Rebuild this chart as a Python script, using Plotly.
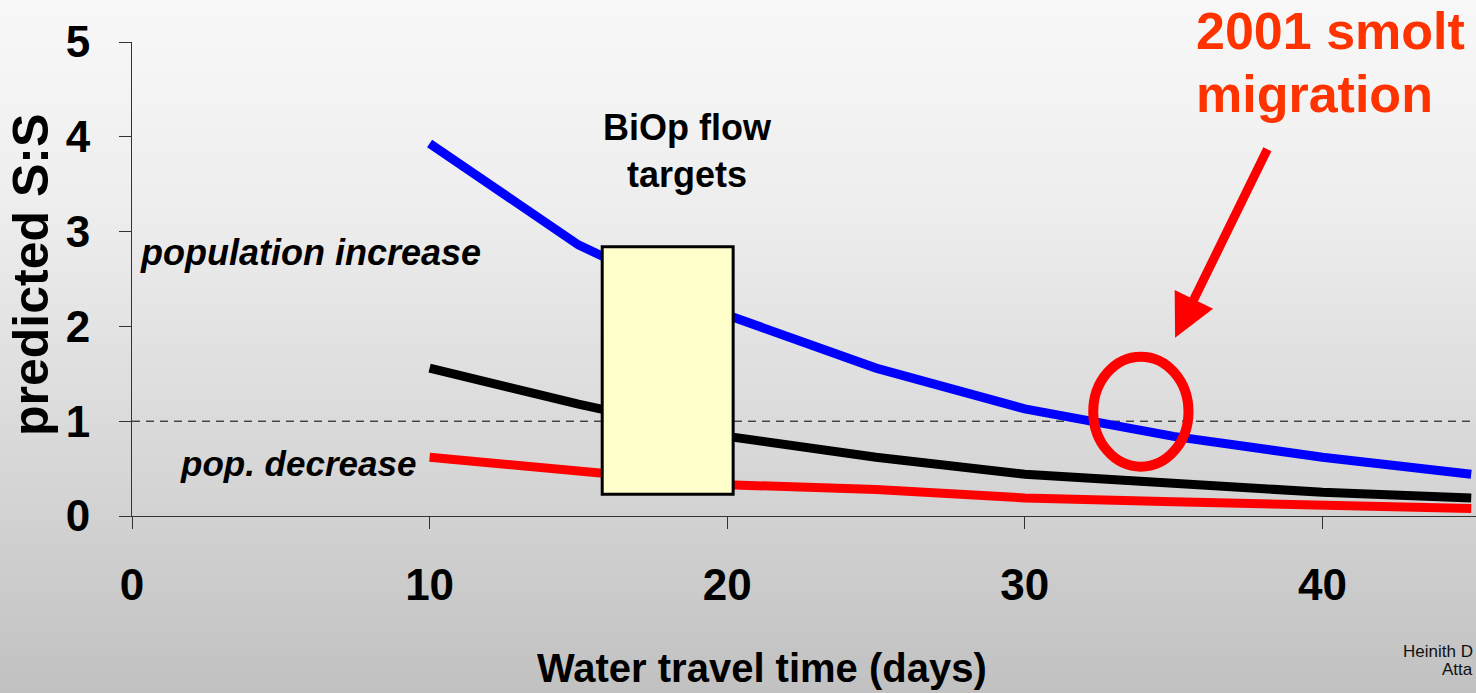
import base64
import struct
import zlib

import plotly.graph_objects as go

# ---- data -------------------------------------------------------------
travel_days = [10, 15, 20, 25, 30, 35, 40, 45]
ss_high = [3.93, 2.86, 2.12, 1.56, 1.13, 0.84, 0.62, 0.44]
ss_mid = [1.56, 1.18, 0.84, 0.62, 0.44, 0.34, 0.25, 0.19]
ss_low = [0.62, 0.48, 0.33, 0.28, 0.19, 0.15, 0.12, 0.08]

x_ticks = [0, 10, 20, 30, 40]
y_ticks = [0, 1, 2, 3, 4, 5]

replacement_level = 1.0
biop_days = [15.8, 20.2]
biop_ss = [0.23, 2.84]
smolt_days = [32.3, 35.5]
smolt_ss = [0.52, 1.68]

# ---- page geometry ----------------------------------------------------
W, H = 1476, 693
ML, MR, MT, MB = 132, 0, 42, 177
PLOT_W = W - ML - MR
PLOT_H = H - MT - MB
X_MAX = PLOT_W / 29.76


def paper_x(px):
    return (px - ML) / PLOT_W


def paper_y(py):
    return (H - MB - py) / PLOT_H


def gradient_png(stops, height):
    """1-pixel-wide grayscale PNG fading through the given (row, level) stops."""
    rows = b""
    for r in range(height):
        for (r0, v0), (r1, v1) in zip(stops[:-1], stops[1:]):
            if r0 <= r <= r1:
                v = v0 + (v1 - v0) * (r - r0) / (r1 - r0)
                break
        rows += b"\x00" + bytes([int(round(v))])

    def chunk(tag, data):
        c = struct.pack(">I", len(data)) + tag + data
        return c + struct.pack(">I", zlib.crc32(tag + data) & 0xFFFFFFFF)

    png = b"\x89PNG\r\n\x1a\n"
    png += chunk(b"IHDR", struct.pack(">IIBBBBB", 1, height, 8, 0, 0, 0, 0))
    png += chunk(b"IDAT", zlib.compress(rows))
    png += chunk(b"IEND", b"")
    return "data:image/png;base64," + base64.b64encode(png).decode()


BG = gradient_png([(0, 248), (200, 238), (430, 218), (692, 193)], H)

SANS = "Liberation Sans, Arial, sans-serif"

fig = go.Figure()

for vals, col in [(ss_low, "#FF0000"), (ss_mid, "#000000"), (ss_high, "#0000FF")]:
    fig.add_trace(go.Scatter(
        x=travel_days, y=vals, mode="lines",
        line=dict(color=col, width=9),
        hoverinfo="skip", showlegend=False,
    ))

# replacement line S:S = 1
fig.add_shape(type="line", xref="x", yref="y", layer="below",
              x0=0, x1=X_MAX, y0=replacement_level, y1=replacement_level,
              line=dict(color="#000000", width=1, dash="8px,6px"))

# BiOp flow-target window
fig.add_shape(type="rect", xref="x", yref="y", layer="above",
              x0=biop_days[0], x1=biop_days[1], y0=biop_ss[0], y1=biop_ss[1],
              fillcolor="#FFFFCC", line=dict(color="#000000", width=3))

# 2001 smolt migration marker
fig.add_shape(type="circle", xref="x", yref="y", layer="above",
              x0=smolt_days[0], x1=smolt_days[1], y0=smolt_ss[0], y1=smolt_ss[1],
              line=dict(color="#FF0000", width=10))

fig.add_annotation(x=35.05, y=1.88, xref="x", yref="y", text="",
                   showarrow=True, ax=93, ay=-190, arrowhead=2,
                   arrowwidth=9, arrowsize=0.95, arrowcolor="#FF0000",
                   standoff=0)

annos = [
    dict(text="Water travel time (days)", x=paper_x(762), y=paper_y(668),
         font=dict(family=SANS, size=40, weight="bold", color="#000000")),
    dict(text="predicted S:S", x=paper_x(31), y=paper_y(275), textangle=-90,
         font=dict(family=SANS, size=50, weight="bold", color="#000000")),
    dict(text="population increase", x=paper_x(138), y=paper_y(252), xanchor="left",
         font=dict(family=SANS, size=36, weight="bold", style="italic", color="#000000")),
    dict(text="pop. decrease", x=paper_x(418), y=paper_y(463), xanchor="right",
         font=dict(family=SANS, size=35, weight="bold", style="italic", color="#000000")),
    dict(text="BiOp flow<br>targets", x=paper_x(687), y=paper_y(151),
         font=dict(family=SANS, size=36, weight="bold", color="#000000")),
    dict(text="2001 smolt", x=paper_x(1194), y=paper_y(31), xanchor="left",
         font=dict(family=SANS, size=52, weight="bold", color="#FF3300")),
    dict(text="migration", x=paper_x(1194), y=paper_y(94), xanchor="left",
         font=dict(family=SANS, size=52, weight="bold", color="#FF3300")),
    dict(text="Heinith D", x=paper_x(1475), y=paper_y(651), xanchor="right",
         font=dict(family=SANS, size=17, color="#111111")),
    dict(text="Atta", x=paper_x(1475), y=paper_y(669), xanchor="right",
         font=dict(family=SANS, size=17, color="#111111")),
]
for a in annos:
    a.setdefault("xanchor", "center")
    fig.add_annotation(xref="paper", yref="paper", yanchor="middle",
                       showarrow=False, **a)

fig.update_layout(
    width=W, height=H,
    margin=dict(l=ML, r=MR, t=MT, b=MB, pad=0),
    paper_bgcolor="#C2C2C2",
    plot_bgcolor="rgba(0,0,0,0)",
    images=[dict(source=BG, xref="paper", yref="paper",
                 x=paper_x(0), y=paper_y(0), sizex=W / PLOT_W, sizey=H / PLOT_H,
                 xanchor="left", yanchor="top", sizing="stretch", layer="below")],
    xaxis=dict(range=[0, X_MAX], tickvals=x_ticks, showgrid=False, zeroline=False,
               showline=True, linecolor="#333333", linewidth=1,
               ticks="outside", ticklen=12, tickcolor="#333333",
               ticklabelstandoff=18,
               tickfont=dict(family=SANS, size=44, weight="bold", color="#000000")),
    yaxis=dict(range=[0, 5], tickvals=y_ticks, showgrid=False, zeroline=False,
               showline=True, linecolor="#333333", linewidth=1,
               ticks="outside", ticklen=12, tickcolor="#333333",
               ticklabelstandoff=20,
               tickfont=dict(family=SANS, size=44, weight="bold", color="#000000")),
)

fig.write_html("out.html", config=dict(displayModeBar=False))
